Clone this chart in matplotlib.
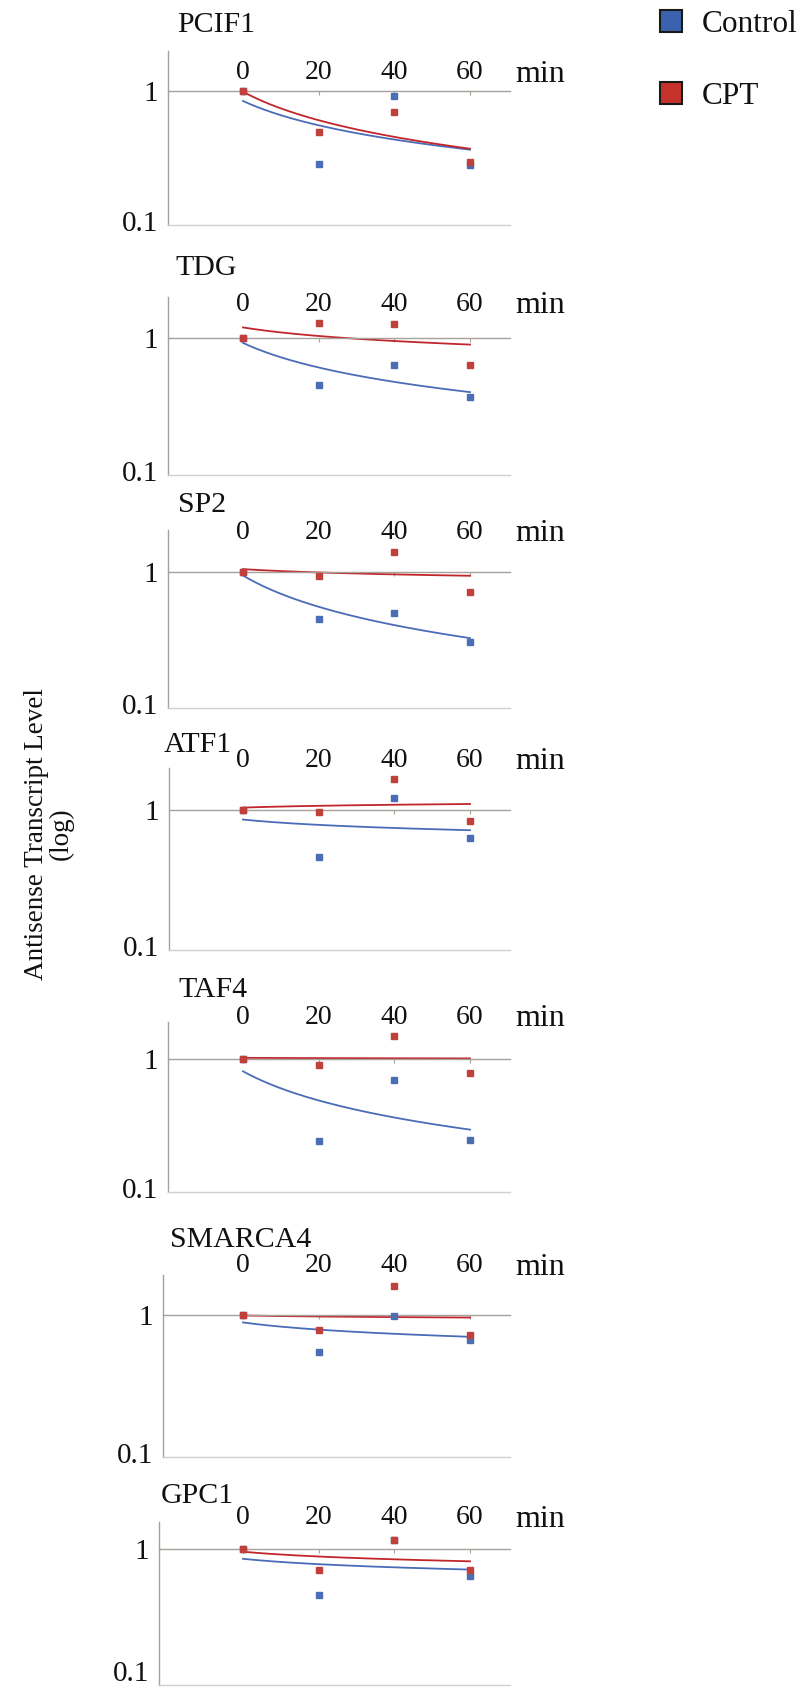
import numpy as np
import matplotlib
matplotlib.use('Agg')
import matplotlib.pyplot as plt
from matplotlib.lines import Line2D
from matplotlib.ticker import NullLocator
from matplotlib.transforms import ScaledTranslation

# ---------------- data ----------------
genes = ['PCIF1', 'TDG', 'SP2', 'ATF1', 'TAF4', 'SMARCA4', 'GPC1']
time_min = [0, 20, 40, 60]
time_labels = ['0', '20', '40', '60']
y_ticks = [0.1, 1]
y_tick_labels = ['0.1', '1']
series_names = ['Control', 'CPT']

pcif1_control = [1.0, 0.285, 0.92, 0.28]
pcif1_cpt = [1.0, 0.49, 0.69, 0.295]
tdg_control = [1.0, 0.454, 0.63, 0.372]
tdg_cpt = [1.0, 1.29, 1.26, 0.634]
sp2_control = [1.0, 0.454, 0.497, 0.308]
sp2_cpt = [1.0, 0.935, 1.40, 0.717]
atf1_control = [1.0, 0.46, 1.21, 0.63]
atf1_cpt = [1.0, 0.96, 1.65, 0.83]
taf4_control = [1.0, 0.243, 0.70, 0.248]
taf4_cpt = [1.0, 0.90, 1.49, 0.79]
smarca4_control = [1.0, 0.55, 0.98, 0.67]
smarca4_cpt = [1.0, 0.78, 1.60, 0.72]
gpc1_control = [1.0, 0.457, 1.17, 0.634]
gpc1_cpt = [1.0, 0.70, 1.17, 0.70]

control_series = [pcif1_control, tdg_control, sp2_control, atf1_control,
                  taf4_control, smarca4_control, gpc1_control]
cpt_series = [pcif1_cpt, tdg_cpt, sp2_cpt, atf1_cpt,
              taf4_cpt, smarca4_cpt, gpc1_cpt]

# ---------------- layout (pixels) ----------------
W, H = 804, 1687
# axis top, y=1 line, bottom (0.1) line, left spine, x tick-label pad (pt),
# title x, title y, upward shift of the "0.1" label (px)
layout = [
    (51, 90.7, 225.3, 168, 4.0, 177, 25, 4),
    (297, 337.7, 475, 168, 15.0, 175, 268, 4),
    (530, 572, 708, 168, 19.5, 178, 505, 4),
    (768, 809.7, 950, 169, 26.5, 164, 745, 4),
    (1022, 1059, 1192, 168, 21.0, 178, 990, 4),
    (1275, 1315, 1456.7, 163, 26.5, 170, 1240, 4),
    (1522, 1549, 1685, 159, 13.5, 161, 1496, 14),
]
X0_PX, X60_PX, RIGHT_PX = 243, 470, 510
PPM = (X60_PX - X0_PX) / 60.0

BLUE = '#4a6db4'
RED = '#c0403c'
BLUE_LINE = '#4a6cb8'
RED_LINE = '#c0262b'
GREY = '#a7a19c'
LIGHT = '#d2d0ce'

plt.rcParams['font.family'] = ['Liberation Serif', 'DejaVu Serif']
plt.rcParams['text.color'] = '#111111'
plt.rcParams['xtick.color'] = '#111111'
plt.rcParams['ytick.color'] = '#111111'

fig = plt.figure(figsize=(W / 100, H / 100), dpi=100)


def power_trend(vals):
    k = np.arange(1, len(vals) + 1)
    b, c = np.polyfit(np.log(k), np.log(vals), 1)
    xs = np.linspace(time_min[0], time_min[-1], 200)
    ks = 1 + (xs - time_min[0]) / (time_min[1] - time_min[0])
    return xs, np.exp(c) * ks ** b


for i, gene in enumerate(genes):
    top, y1, bot, left, pad, tx, ty, lift = layout[i]
    ax = fig.add_axes([left / W, 1 - bot / H, (RIGHT_PX - left) / W, (bot - top) / H])
    ax.set_yscale('log')
    ax.set_ylim(0.1, 10 ** ((y1 - top) / (bot - y1)))
    ax.set_xlim((left - X0_PX) / PPM, (RIGHT_PX - X0_PX) / PPM)

    ctrl = control_series[i]
    cpt = cpt_series[i]
    xs, yc = power_trend(ctrl)
    ax.plot(xs, yc, color=BLUE_LINE, lw=1.3, zorder=2)
    xs, yr = power_trend(cpt)
    ax.plot(xs, yr, color=RED_LINE, lw=1.3, zorder=2.1)
    ax.plot(time_min, ctrl, 's', ms=5, color=BLUE, mec=BLUE, zorder=3, clip_on=False)
    ax.plot(time_min, cpt, 's', ms=5, color=RED, mec=RED, zorder=3.1, clip_on=False)

    ax.spines['right'].set_visible(False)
    ax.spines['left'].set_color(GREY)
    ax.spines['left'].set_linewidth(1.0)
    ax.spines['bottom'].set_color(LIGHT)
    ax.spines['bottom'].set_linewidth(1.0)
    ax.spines['top'].set_position(('data', 1))
    ax.spines['top'].set_color(GREY)
    ax.spines['top'].set_linewidth(1.0)

    ax.xaxis.set_ticks_position('top')
    ax.set_xticks(time_min)
    ax.set_xticklabels(time_labels)
    ax.tick_params(axis='x', which='both', direction='in', length=3, width=0.8,
                   color=GREY, pad=pad, labelsize=20)
    ax.set_yticks(y_ticks)
    ax.set_yticklabels(y_tick_labels)
    ax.yaxis.set_minor_locator(NullLocator())
    ax.tick_params(axis='y', which='both', length=0, pad=7, labelsize=21)
    low_lbl = ax.yaxis.get_major_ticks()[0].label1
    low_lbl.set_transform(low_lbl.get_transform() +
                          ScaledTranslation(0, lift / 100.0, fig.dpi_scale_trans))

    ax.annotate('min', xy=(1.0, 1.0), xycoords=('axes fraction', 'data'),
                xytext=(3.6, pad + 2.5), textcoords='offset points',
                ha='left', va='baseline', fontsize=23)
    fig.text(tx / W, 1 - ty / H, gene, ha='left', va='center', fontsize=21.5)

# y label
fig.text(49 / W, 1 - 834 / H, 'Antisense Transcript Level\n(log)', rotation=90,
         ha='center', va='center', fontsize=19.5, linespacing=1.0,
         multialignment='center')

# legend
handles = [
    Line2D([], [], ls='', marker='s', ms=16.5, mfc='#3a62ad', mec='#1a1a1a', mew=1.5),
    Line2D([], [], ls='', marker='s', ms=16.5, mfc='#c5322b', mec='#1a1a1a', mew=1.5),
]
fig.legend(handles, series_names, loc='upper left',
           bbox_to_anchor=(655 / W, 1 - 9.5 / H), frameon=False, fontsize=22.5,
           handlelength=1.0, handletextpad=0.5, labelspacing=1.39, borderpad=0,
           borderaxespad=0)

fig.savefig('out.png', dpi=100)
